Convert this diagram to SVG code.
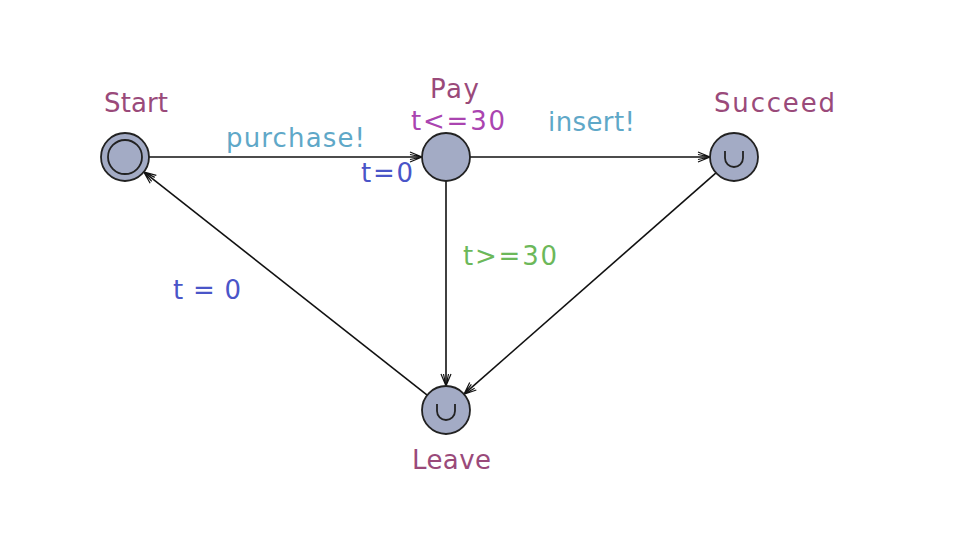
<svg xmlns="http://www.w3.org/2000/svg" width="958" height="534" viewBox="0 0 958 534">
<style>
text{font-family:"DejaVu Sans",Verdana,sans-serif;font-size:26px}
.name{fill:#9a4a7a}
.sync{fill:#5fa8c8}
.upd{fill:#4a55c8}
.guard{fill:#6cb85a}
.inv{fill:#aa44b0}
.loc{fill:#a3abc5;stroke:#222;stroke-width:1.8}
.edge{stroke:#111;stroke-width:1.6;fill:none}
.mark{stroke:#222;stroke-width:1.8;fill:none}
</style>
<defs>
<marker id="arr" markerUnits="userSpaceOnUse" markerWidth="16" markerHeight="14" viewBox="-14 -7 16 14" refX="0" refY="0" orient="auto">
<path d="M-12,-5 L0,0 L-12,5 M-12,-2.5 L0,0 L-12,2.5" stroke="#111" stroke-width="1.2" fill="none"/>
</marker>
</defs>
<rect width="958" height="534" fill="#fff"/>
<g id="edges">
<line class="edge" x1="149" y1="157" x2="422" y2="157" marker-end="url(#arr)"/>
<line class="edge" x1="470" y1="157" x2="710" y2="157" marker-end="url(#arr)"/>
<line class="edge" x1="446" y1="181" x2="446" y2="386" marker-end="url(#arr)"/>
<line class="edge" x1="716" y1="172.8" x2="464" y2="394.2" marker-end="url(#arr)"/>
<line class="edge" x1="427.2" y1="395.1" x2="143.8" y2="171.9" marker-end="url(#arr)"/>
<text class="sync" x="226" y="147" textLength="139" lengthAdjust="spacing">purchase!</text>
<text class="upd" x="361" y="182" textLength="52" lengthAdjust="spacing">t=0</text>
<text class="sync" x="548" y="131" textLength="87" lengthAdjust="spacing">insert!</text>
<text class="guard" x="463" y="265" textLength="94" lengthAdjust="spacing">t&gt;=30</text>
<text class="upd" x="173" y="299" textLength="68" lengthAdjust="spacing">t = 0</text>
</g>
<g id="Start">
<circle class="loc" cx="125" cy="157" r="24"/>
<circle class="mark" cx="125" cy="157" r="17"/>
<text class="name" x="104" y="112" textLength="64" lengthAdjust="spacing">Start</text>
</g>
<g id="Pay">
<circle class="loc" cx="446" cy="157" r="24"/>
<text class="name" x="430" y="98" textLength="49" lengthAdjust="spacing">Pay</text>
<text class="inv" x="411" y="130" textLength="94" lengthAdjust="spacing">t&lt;=30</text>
</g>
<g id="Succeed">
<circle class="loc" cx="734" cy="157" r="24"/>
<path class="mark" d="M725,151 L725,158 A9,9 0 0 0 743,158 L743,151"/>
<text class="name" x="714" y="112" textLength="121" lengthAdjust="spacing">Succeed</text>
</g>
<g id="Leave">
<circle class="loc" cx="446" cy="410" r="24"/>
<path class="mark" d="M437,404 L437,411 A9,9 0 0 0 455,411 L455,404"/>
<text class="name" x="412" y="469" textLength="79" lengthAdjust="spacing">Leave</text>
</g>
</svg>
